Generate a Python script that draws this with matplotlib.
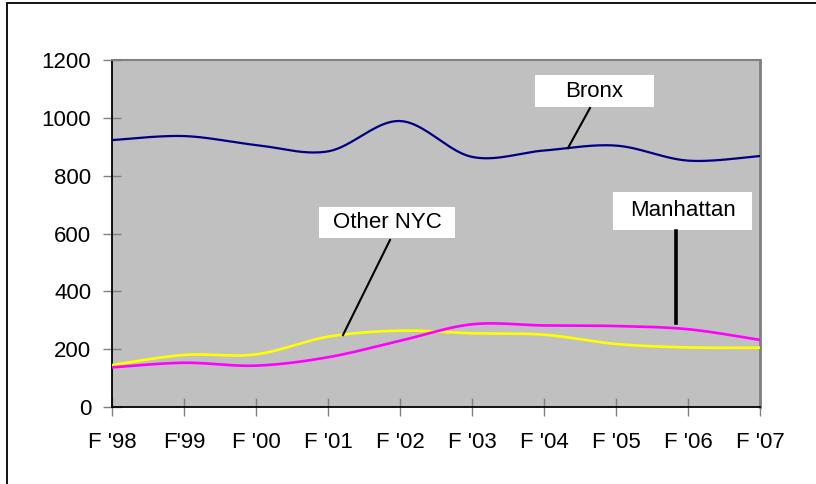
import numpy as np
import matplotlib.pyplot as plt
from matplotlib.patches import Rectangle

# =====================================================
# Datos
# =====================================================

years = ["F '98", "F'99", "F '00", "F '01", "F '02",
         "F '03", "F '04", "F '05", "F '06", "F '07"]

bronx = [923, 937, 906, 884, 989, 865, 887, 904, 852, 868]
manhattan = [137, 153, 143, 172, 229, 286, 282, 280, 269, 232]
other_nyc = [145, 180, 182, 243, 264, 255, 250, 218, 206, 205]

# =====================================================
# Suavizado tipo Excel (Bezier por segmentos)
# =====================================================


def smooth(x, y, n=40):
    x = np.asarray(x, float)
    y = np.asarray(y, float)
    px = np.concatenate([[x[0]], x, [x[-1]]])
    py = np.concatenate([[y[0]], y, [y[-1]]])
    xs, ys = [], []
    t = np.linspace(0, 1, n)
    for i in range(len(x) - 1):
        p0 = np.array([px[i + 1], py[i + 1]])
        p3 = np.array([px[i + 2], py[i + 2]])
        c1 = p0 + (np.array([px[i + 2], py[i + 2]]) - np.array([px[i], py[i]])) / 6
        c2 = p3 - (np.array([px[i + 3], py[i + 3]]) - np.array([px[i + 1], py[i + 1]])) / 6
        b = ((1 - t) ** 3)[:, None] * p0 + (3 * (1 - t) ** 2 * t)[:, None] * c1 \
            + (3 * (1 - t) * t ** 2)[:, None] * c2 + (t ** 3)[:, None] * p3
        xs.extend(b[:, 0])
        ys.extend(b[:, 1])
    return np.array(xs), np.array(ys)


x = np.arange(len(years))

# =====================================================
# Graficar
# =====================================================

plt.rcParams['font.family'] = ['Liberation Sans', 'DejaVu Sans']

fig = plt.figure(figsize=(8.16, 4.84), dpi=100)
ax = fig.add_axes([112 / 816, 1 - 407 / 484, 648 / 816, 347 / 484])
ax.set_facecolor('#C0C0C0')

# marco exterior
fig.patches.append(Rectangle((7 / 816, -0.1), 1.2, 1 - 3 / 484 + 0.1,
                             transform=fig.transFigure, fill=False,
                             edgecolor='black', linewidth=1.3))

sx, sy = smooth(x, bronx)
ax.plot(sx, sy, color='#000080', linewidth=1.6, zorder=3)
sx, sy = smooth(x, other_nyc)
ax.plot(sx, sy, color='#FFFF00', linewidth=1.9, zorder=3)
sx, sy = smooth(x, manhattan)
ax.plot(sx, sy, color='#FF00FF', linewidth=1.9, zorder=4)

ax.set_xlim(0, 9)
ax.set_ylim(0, 1200)
ax.set_yticks(range(0, 1201, 200))
ax.set_xticks(x)
ax.set_xticklabels(years)

ax.tick_params(direction='inout', length=13, color='#808080', width=1,
               labelsize=16, pad=11.5)
ax.tick_params(axis='y', pad=8.5)

ax.spines['left'].set_color('black')
ax.spines['bottom'].set_color('black')
ax.spines['left'].set_linewidth(1.3)
ax.spines['bottom'].set_linewidth(1.3)
ax.spines['top'].set_color('#808080')
ax.spines['right'].set_color('#808080')
ax.spines['top'].set_linewidth(1.5)
ax.spines['right'].set_linewidth(2)

# =====================================================
# Etiquetas
# =====================================================

px = 1 / 72.0
py = 1200 / 347.0


def label(text, x0, x1, y0, y1, lead, lw):
    # caja en pixeles -> datos
    bx0 = (x0 - 112) * px
    bx1 = (x1 - 112) * px
    by0 = (407 - y1) * py
    by1 = (407 - y0) * py
    ax.add_patch(Rectangle((bx0, by0), bx1 - bx0, by1 - by0,
                           facecolor='white', edgecolor='none', zorder=5))
    ax.text((bx0 + bx1) / 2, (by0 + by1) / 2, text, ha='center',
            va='center', fontsize=16, zorder=6)
    lx = [(p[0] - 112) * px for p in lead]
    ly = [(407 - p[1]) * py for p in lead]
    ax.plot(lx, ly, color='black', linewidth=lw, zorder=5)


label("Bronx", 535, 654, 75, 107, [(590, 108), (568, 148)], 1.5)
label("Other NYC", 319, 455, 207, 238, [(390, 240), (343, 335)], 1.5)
label("Manhattan", 613, 752, 192, 230, [(676, 231), (676, 323)], 2.6)

fig.savefig('out.png', dpi=100)
